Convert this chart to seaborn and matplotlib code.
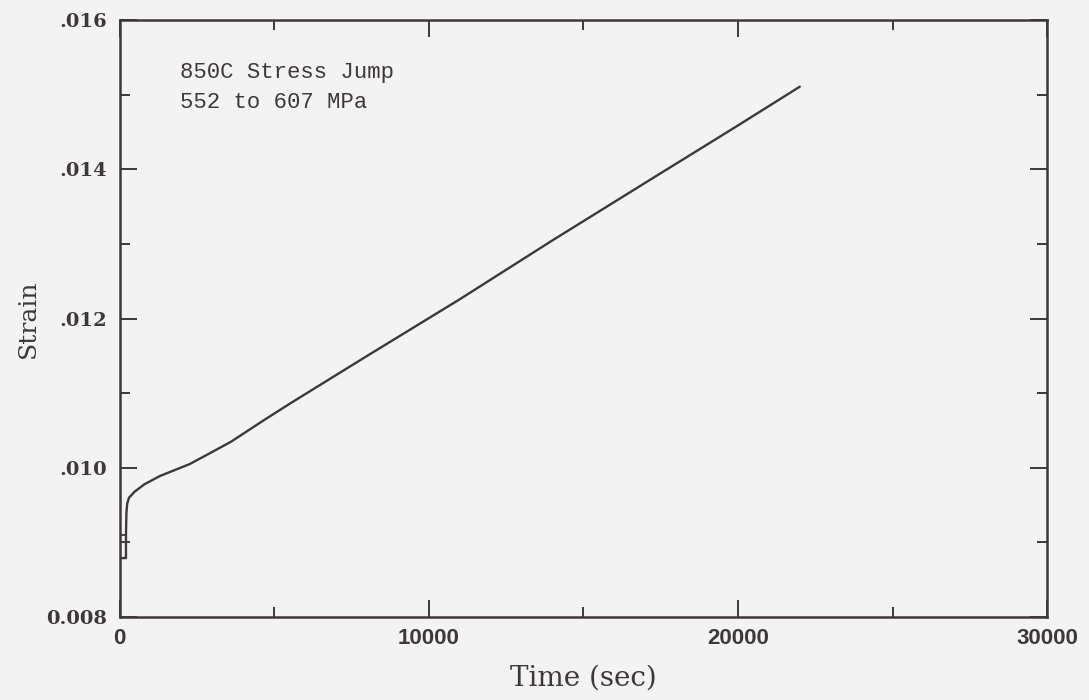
import matplotlib
matplotlib.use("Agg")
import matplotlib.pyplot as plt
import seaborn as sns
import pandas as pd
from matplotlib.ticker import FixedLocator

# Creep curve for the stress jump test
time_sec = [0, 200, 200, 215, 240, 300, 480, 800, 1300, 2260, 2800, 3600,
            4630, 5500, 8000, 11000, 14000, 17150, 20000, 22000]
strain = [0.00879, 0.00879, 0.00910, 0.00940, 0.00952, 0.00960, 0.00968,
          0.00978, 0.00989, 0.01005, 0.01017, 0.01035, 0.01063, 0.01086,
          0.01150, 0.01226, 0.01305, 0.01386, 0.01459, 0.01511]

# Short hold segment at the lower stress before the jump
hold_time = [0, 200]
hold_strain = [0.00910, 0.00910]

x_ticks = [0, 10000, 20000, 30000]
x_tick_labels = ["0", "10000", "20000", "30000"]
y_ticks = [0.008, 0.010, 0.012, 0.014, 0.016]
y_tick_labels = ["0.008", ".010", ".012", ".014", ".016"]

note_lines = ["850C Stress Jump", "552 to 607 MPa"]

bg = "#f4f3f3"
ink = "#3f3838"

sns.set_theme(style="ticks")
plt.rcParams["font.family"] = ["DejaVu Serif"]

fig = plt.figure(figsize=(10.89, 7.0), dpi=100, facecolor=bg)
ax = fig.add_axes([0.110, 0.1186, 0.8515, 0.8524])
ax.set_facecolor(bg)

curve = pd.DataFrame({"t": time_sec, "e": strain})
hold = pd.DataFrame({"t": hold_time, "e": hold_strain})
sns.lineplot(data=curve, x="t", y="e", sort=False, estimator=None,
             color=ink, linewidth=1.7, ax=ax)
sns.lineplot(data=hold, x="t", y="e", sort=False, estimator=None,
             color=ink, linewidth=1.3, ax=ax)

ax.set_xlim(0, 30000)
ax.set_ylim(0.008, 0.016)

ax.xaxis.set_major_locator(FixedLocator(x_ticks))
ax.set_xticklabels(x_tick_labels)
ax.xaxis.set_minor_locator(FixedLocator([5000, 15000, 25000]))
ax.yaxis.set_major_locator(FixedLocator(y_ticks))
ax.set_yticklabels(y_tick_labels)
ax.yaxis.set_minor_locator(FixedLocator([0.009, 0.011, 0.013, 0.015]))

for side in ["top", "right", "bottom", "left"]:
    ax.spines[side].set_visible(True)
    ax.spines[side].set_color(ink)
    ax.spines[side].set_linewidth(1.8)

ax.tick_params(axis="both", which="major", direction="in", length=12,
               width=1.4, color=ink, top=True, right=True)
ax.tick_params(axis="both", which="minor", direction="in", length=7,
               width=1.4, color=ink, top=True, right=True)
ax.tick_params(axis="x", which="major", pad=8)
ax.tick_params(axis="y", which="major", pad=9)

for lab in ax.get_xticklabels():
    lab.set_fontfamily("Liberation Sans")
    lab.set_fontweight("bold")
    lab.set_fontsize(16)
    lab.set_color(ink)
for lab in ax.get_yticklabels():
    lab.set_fontfamily("DejaVu Serif")
    lab.set_fontweight("bold")
    lab.set_fontsize(14)
    lab.set_color(ink)

ax.set_xlabel("Time (sec)", fontsize=20, color=ink, labelpad=11)
ax.set_ylabel("Strain", fontsize=18, color=ink, labelpad=5)

ax.text(0.065, 0.93, "\n".join(note_lines), transform=ax.transAxes,
        ha="left", va="top", fontsize=16, family="Liberation Mono",
        color=ink, linespacing=1.55)

fig.savefig("out.png", dpi=100, facecolor=bg)
